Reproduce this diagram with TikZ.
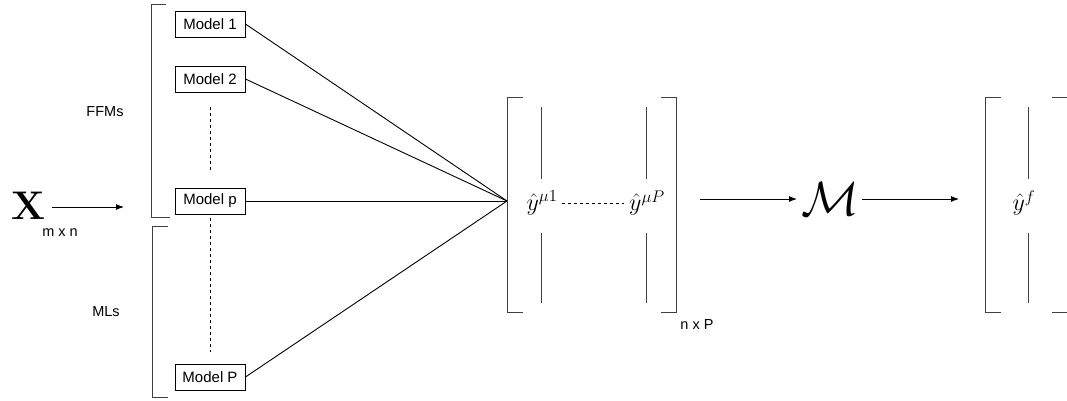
\RequirePackage{fix-cm}
\documentclass[tikz,border=0pt]{standalone}
\usepackage[no-math]{fontspec}
\setmainfont{Liberation Sans}
\usetikzlibrary{arrows.meta}
\begin{document}
\begin{tikzpicture}[x=1pt,y=-1pt,
  modelbox/.style={draw,line width=0.9pt,minimum width=70pt,minimum height=26pt,inner sep=0pt,font=\fontsize{15}{17}\selectfont},
  lbl/.style={font=\fontsize{14.5}{16}\selectfont,inner sep=0pt},
  brk/.style={draw=black!75,line width=0.9pt},
  conn/.style={line width=0.9pt},
  arr/.style={line width=0.9pt,-{Latex[length=8pt,width=6pt]}},
  mth/.style={inner sep=0pt,font=\fontsize{24}{28}\selectfont}]
\useasboundingbox (0,0) rectangle (1067,400);
% input
\node[inner sep=0pt,font=\fontsize{40}{44}\selectfont] (X) at (28,206) {$\mathbf{X}$};
\node[lbl] (mxn) at (60,233) {m x n};
\coordinate (a0) at (52,207);
\coordinate (a1) at (124,207);
\draw[arr] (a0) -- (a1);
% brackets for groups
\draw[brk] (166,4) -- (151,4) -- (151,217) -- (170,217);
\draw[brk] (168,226) -- (152,226) -- (152,397) -- (168,397);
\node[lbl] (ffm) at (105,112) {FFMs};
\node[lbl] (mls) at (106,312) {MLs};
% models
\node[modelbox] (m1) at (210,24) {Model 1};
\node[modelbox] (m2) at (210,79) {Model 2};
\node[modelbox] (mp) at (210,201) {Model p};
\node[modelbox] (mP) at (210,377) {Model P};
\coordinate (d1) at (210,107);
\coordinate (d2) at (210,170);
\coordinate (d3) at (210,218);
\coordinate (d4) at (210,352);
\draw[conn,dashed] (d1) -- (d2);
\draw[conn,dashed] (d3) -- (d4);
% convergence
\coordinate (c) at (507,201);
\draw[conn] (m1.east) -- (c);
\draw[conn] (m2.east) -- (c);
\draw[conn] (mp.east) -- (c);
\draw[conn] (mP.east) -- (c);
% matrix 1
\draw[brk] (523,97) -- (507,97) -- (507,312) -- (523,312);
\draw[brk] (661,97) -- (676,97) -- (676,312) -- (661,312);
\draw[brk] (541,107) -- (541,179);
\draw[brk] (541,233) -- (541,303);
\draw[brk] (646,107) -- (646,179);
\draw[brk] (646,233) -- (646,303);
\node[mth] (y1) at (542,203) {$\hat y^{\mu 1}$};
\node[mth] (yP) at (647,203) {$\hat y^{\mu P}$};
\draw[conn,dashed] ([xshift=4pt]y1.east) -- ([xshift=-5pt]yP.west);
\node[lbl] (nxP) at (697,325) {n x P};
% M
\coordinate (b0) at (700,199);
\node[inner sep=0pt,font=\fontsize{48}{52}\selectfont] (M) at (830,199) {$\mathcal{M}$};
\draw[arr] (b0) -- (797,199);
\coordinate (b1) at (959,199);
\draw[arr] (862,199) -- (b1);
% matrix 2
\draw[brk] (1001,97) -- (985,97) -- (985,312) -- (1001,312);
\draw[brk] (1052,97) -- (1067,97);
\draw[brk] (1052,312) -- (1067,312);
\draw[brk] (1028,107) -- (1028,179);
\draw[brk] (1028,233) -- (1028,303);
\node[mth] (yf) at (1024,203) {$\hat y^{f}$};
\end{tikzpicture}
\end{document}
